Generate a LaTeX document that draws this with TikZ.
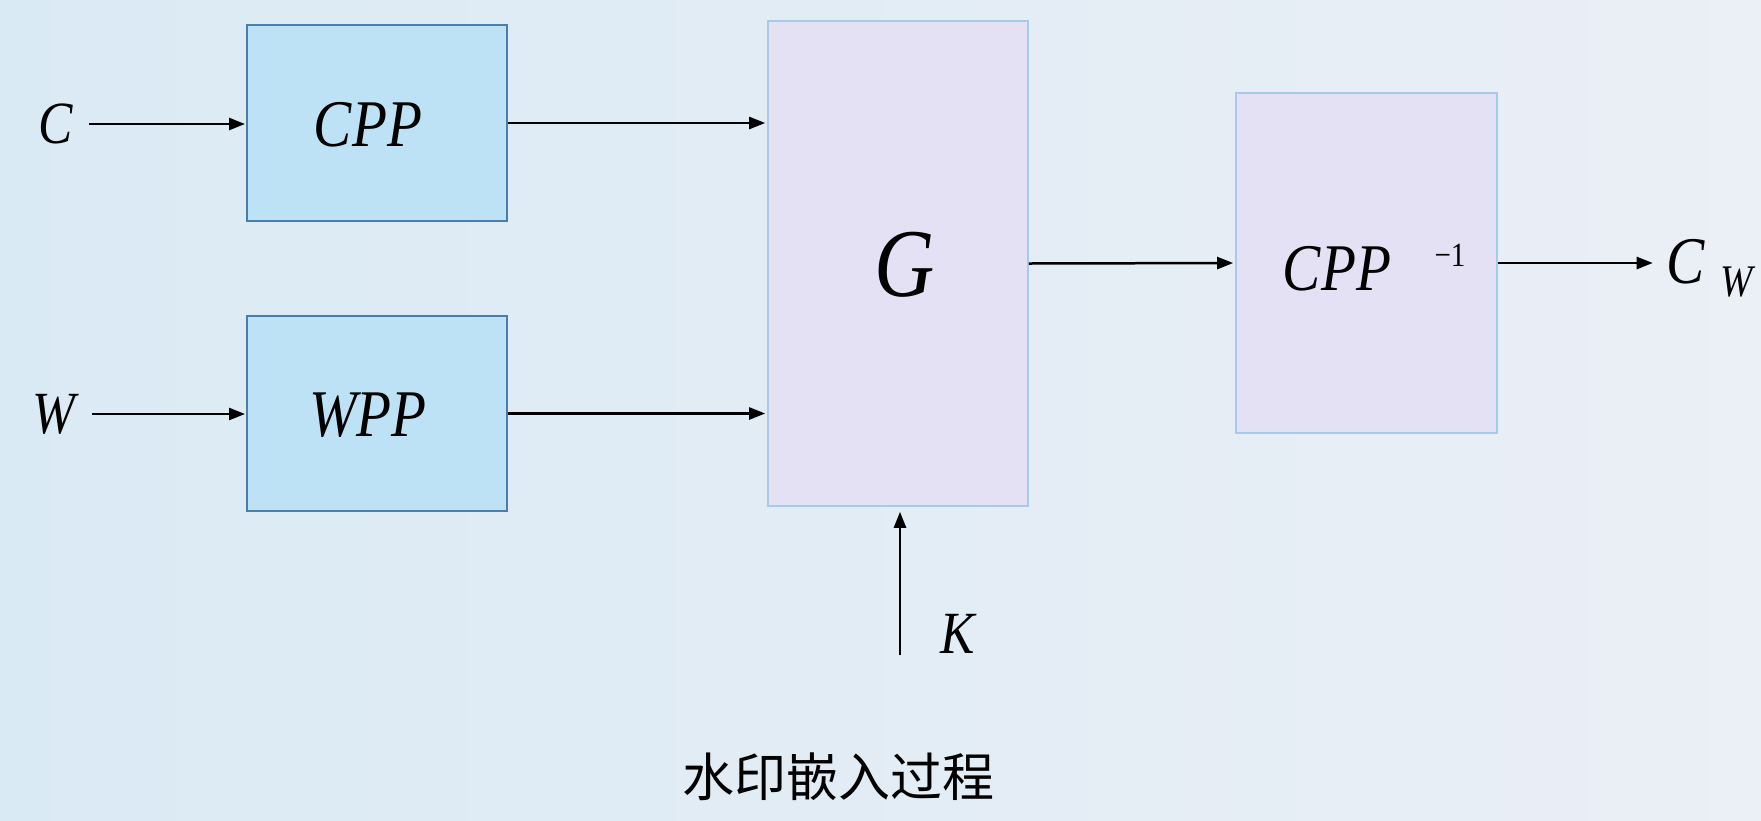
\documentclass[tikz,border=0pt]{standalone}
\usepackage{fontspec}
\usepackage{graphicx}
\setmainfont{Liberation Serif}
\newfontfamily\cjk{Noto Sans CJK SC}
\usetikzlibrary{arrows.meta}
\newcommand{\vstr}[1]{\scalebox{0.97}[1.13]{#1}}
\definecolor{bgleft}{HTML}{DAEAF4}
\definecolor{bgright}{HTML}{EBEFF6}
\definecolor{bluefill}{HTML}{BDE2F5}
\definecolor{blueline}{HTML}{4A7EAA}
\definecolor{lavfill}{HTML}{E5E1F5}
\definecolor{lavline}{HTML}{A8CAEA}
\tikzset{
  bluebox/.style={draw=blueline, line width=2pt, fill=bluefill, minimum width=260pt, inner sep=0pt},
  lavbox/.style={draw=lavline, line width=1.6pt, fill=lavfill, minimum width=260pt, inner sep=0pt},
  arr/.style={line width=2.5pt, -{Triangle[length=16pt,width=12pt]}},
  lbl/.style={inner sep=0pt, font=\fontsize{53}{53}\selectfont\itshape},
  boxlbl/.style={inner sep=0pt, font=\fontsize{59}{59}\selectfont\itshape},
}
\begin{document}
\begin{tikzpicture}[x=1pt,y=-1pt]
\useasboundingbox (0,0) rectangle (1761,820);
\shade[left color=bgleft, right color=bgright] (0,0) rectangle (1761,820);
% boxes
\node[bluebox, minimum height=196pt] (cpp) at (377,123) {};
\node[bluebox, minimum height=195pt] (wpp) at (377,413.5) {};
\node[lavbox, minimum height=485pt] (G) at (898,263.5) {};
\node[lavbox, minimum width=261pt, minimum height=340pt] (cppinv) at (1366.5,263) {};
% box labels
\node[boxlbl] (cpptxt) at (368,125) {\vstr{CPP}};
\node[boxlbl] (wpptxt) at (368,415) {\vstr{WPP}};
\node[inner sep=0pt, font=\fontsize{86}{86}\selectfont\itshape] (Gtxt) at (905,265) {\vstr{G}};
\node[boxlbl] (cppinvtxt) at (1337,269) {\vstr{CPP}};
\node[inner sep=0pt, font=\fontsize{30}{30}\selectfont] (inv) at (1450,255) {\vstr{−1}};
% inputs/outputs
\node[lbl] (C) at (56,124) {\vstr{C}};
\node[lbl] (W) at (54,414) {\vstr{W}};
\node[lbl] (K) at (958,634) {\vstr{K}};
\node[inner sep=0pt, font=\fontsize{59}{59}\selectfont\itshape] (Cw) at (1686,262) {\vstr{C}};
\node[inner sep=0pt, font=\fontsize{40}{40}\selectfont\itshape] (Cwsub) at (1737,282) {\vstr{W}};
\coordinate (kstart) at (900,655);
% connectors
\draw[arr, shorten <=16pt, shorten >=1pt] (C.east) -- (C.east -| cpp.west);
\draw[arr, shorten <=16pt, shorten >=1pt] (W.east) -- (W.east -| wpp.west);
\draw[arr, shorten >=2pt] (cpp.east) -- (cpp.east -| G.west);
\draw[arr, shorten >=2pt] (wpp.east) -- (wpp.east -| G.west);
\draw[arr, shorten >=2pt] (G.east) -- (cppinv.west);
\draw[arr, shorten >=14pt] (cppinv.east) -- (cppinv.east -| Cw.west);
\draw[arr, shorten >=5pt] (kstart) -- (kstart |- G.south);
% caption
\node[inner sep=0pt, font=\fontsize{52}{52}\selectfont\cjk] (cap) at (838,777) {水印嵌入过程};
\end{tikzpicture}
\end{document}
